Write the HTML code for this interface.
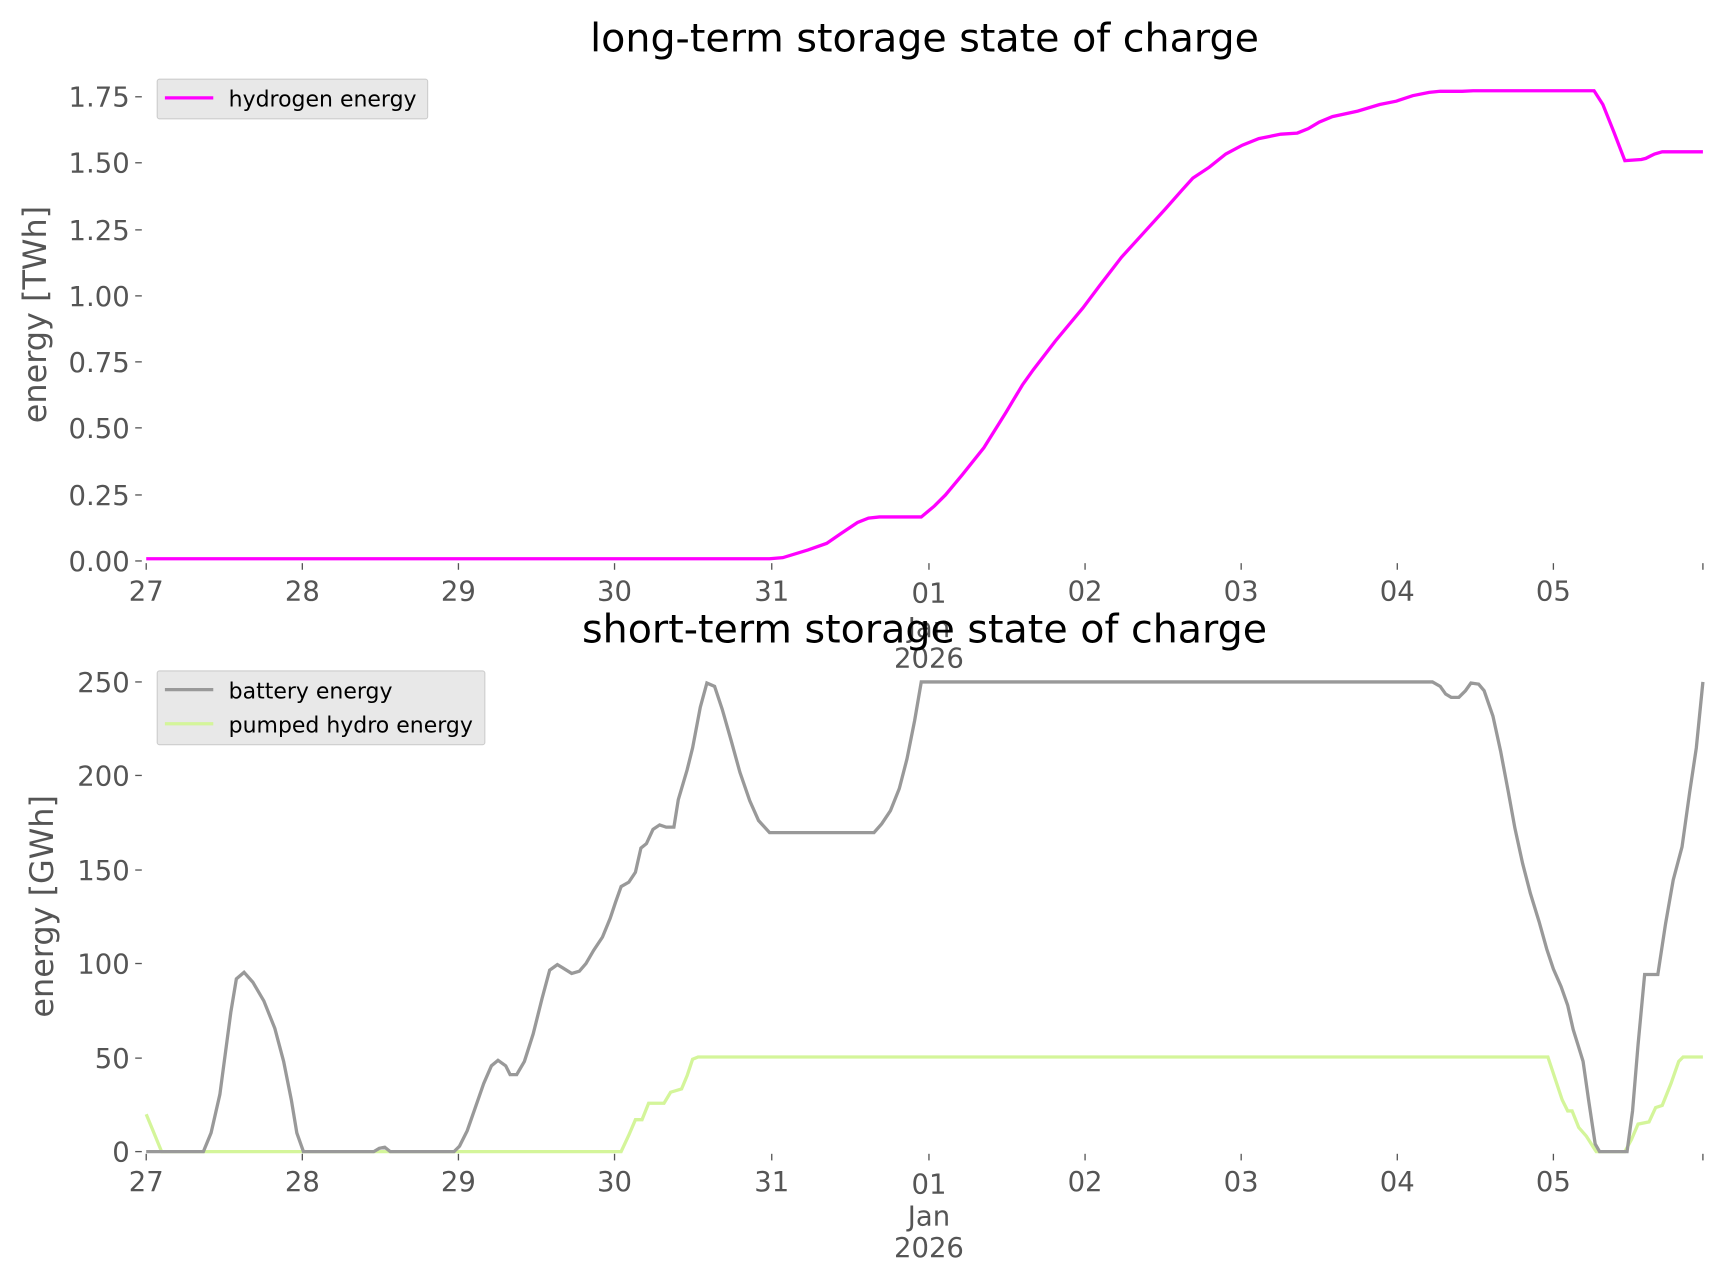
<!DOCTYPE html>
<html><head><style>html,body{margin:0;padding:0;background:#fff;}svg{display:block}</style></head>
<body>
<svg width="1715" height="1277" viewBox="0 0 1560 1161" preserveAspectRatio="none" xmlns="http://www.w3.org/2000/svg" font-family="DejaVu Sans, Liberation Sans, sans-serif">
<rect width="1560" height="1161" fill="#fff"/>
<!-- TOP -->
<text x="841" y="47" font-size="36" text-anchor="middle" fill="#000">long-term storage state of charge</text>
<g fill="#555" font-size="25" text-anchor="end">
<text x="118" y="519">0.00</text><text x="118" y="459">0.25</text><text x="118" y="398">0.50</text>
<text x="118" y="338">0.75</text><text x="118" y="278">1.00</text><text x="118" y="218">1.25</text>
<text x="118" y="157">1.50</text><text x="118" y="97">1.75</text>
</g>
<g stroke="#555" stroke-width="1.2">
<line x1="123" y1="510" x2="129" y2="510"/><line x1="123" y1="450" x2="129" y2="450"/><line x1="123" y1="389" x2="129" y2="389"/><line x1="123" y1="329" x2="129" y2="329"/><line x1="123" y1="269" x2="129" y2="269"/><line x1="123" y1="209" x2="129" y2="209"/><line x1="123" y1="148" x2="129" y2="148"/><line x1="123" y1="88" x2="129" y2="88"/>
<line x1="133" y1="512" x2="133" y2="518"/><line x1="275" y1="512" x2="275" y2="518"/><line x1="417" y1="512" x2="417" y2="518"/><line x1="559" y1="512" x2="559" y2="518"/><line x1="702" y1="512" x2="702" y2="518"/><line x1="845" y1="512" x2="845" y2="518"/><line x1="987" y1="512" x2="987" y2="518"/><line x1="1129" y1="512" x2="1129" y2="518"/><line x1="1271" y1="512" x2="1271" y2="518"/><line x1="1413" y1="512" x2="1413" y2="518"/><line x1="1549" y1="512" x2="1549" y2="518"/>
</g>
<g fill="#555" font-size="25" text-anchor="middle">
<text x="133" y="546">27</text><text x="275" y="546">28</text><text x="417" y="546">29</text><text x="559" y="546">30</text><text x="702" y="546">31</text><text x="845" y="548">01</text><text x="845" y="579">Jan</text><text x="845" y="607">2026</text><text x="987" y="546">02</text><text x="1129" y="546">03</text><text x="1271" y="546">04</text><text x="1413" y="546">05</text>
</g>
<text transform="translate(42,286) rotate(-90)" font-size="29" fill="#555" text-anchor="middle">energy [TWh]</text>
<polyline fill="none" stroke="#ff00ff" stroke-width="3" points="133,508 700,508 712,507 735,500 752,494 765,485 780,475 790,471 800,470 838,470 850,460 860,450 875,432 895,407 915,375 930,350 940,336 960,310 985,280 1000,260 1020,234 1040,212 1060,190 1075,173 1085,162 1100,152 1115,140 1130,132 1145,126 1165,122 1180,121 1190,117 1200,111 1212,106 1235,101 1255,95 1270,92 1285,87 1300,84 1310,83 1330,83 1340,82.5 1450,82.5 1458,95 1468,120 1478,146 1493,145 1497,144 1505,140 1512,138 1549,138"/>
<rect x="143" y="72" width="246" height="36" fill="#e8e8e8" stroke="#ccc" stroke-width="1" rx="2"/>
<line x1="150" y1="89" x2="194" y2="89" stroke="#ff00ff" stroke-width="3"/>
<text x="208" y="97" font-size="20" fill="#000">hydrogen energy</text>
<!-- BOTTOM -->
<text x="841" y="584" font-size="36" text-anchor="middle" fill="#000">short-term storage state of charge</text>
<g fill="#555" font-size="25" text-anchor="end">
<text x="118" y="1056">0</text><text x="118" y="971">50</text><text x="118" y="885">100</text><text x="118" y="800">150</text><text x="118" y="714">200</text><text x="118" y="629">250</text>
</g>
<g stroke="#555" stroke-width="1.2">
<line x1="123" y1="1047" x2="129" y2="1047"/><line x1="123" y1="962" x2="129" y2="962"/><line x1="123" y1="876" x2="129" y2="876"/><line x1="123" y1="791" x2="129" y2="791"/><line x1="123" y1="705" x2="129" y2="705"/><line x1="123" y1="620" x2="129" y2="620"/>
<line x1="133" y1="1049" x2="133" y2="1055"/><line x1="275" y1="1049" x2="275" y2="1055"/><line x1="417" y1="1049" x2="417" y2="1055"/><line x1="559" y1="1049" x2="559" y2="1055"/><line x1="702" y1="1049" x2="702" y2="1055"/><line x1="845" y1="1049" x2="845" y2="1055"/><line x1="987" y1="1049" x2="987" y2="1055"/><line x1="1129" y1="1049" x2="1129" y2="1055"/><line x1="1271" y1="1049" x2="1271" y2="1055"/><line x1="1413" y1="1049" x2="1413" y2="1055"/><line x1="1549" y1="1049" x2="1549" y2="1055"/>
</g>
<g fill="#555" font-size="25" text-anchor="middle">
<text x="133" y="1083">27</text><text x="275" y="1083">28</text><text x="417" y="1083">29</text><text x="559" y="1083">30</text><text x="702" y="1083">31</text><text x="845" y="1085">01</text><text x="845" y="1114">Jan</text><text x="845" y="1143">2026</text><text x="987" y="1083">02</text><text x="1129" y="1083">03</text><text x="1271" y="1083">04</text><text x="1413" y="1083">05</text>
</g>
<text transform="translate(48,824) rotate(-90)" font-size="29" fill="#555" text-anchor="middle">energy [GWh]</text>
<polyline fill="none" stroke="#d4f59a" stroke-width="3" points="133,1013 140,1030 147,1047 565,1047 572,1032 578,1018 584,1018 590,1003 604,1003 610,993 620,990 625,978 630,963 635,961 1408,961 1415,982 1421,1000 1426,1010 1430,1010 1436,1025 1443,1033 1450,1044 1452,1047 1478,1047 1484,1036 1490,1022 1500,1020 1506,1007 1512,1005 1520,985 1527,965 1531,961 1549,961"/>
<polyline fill="none" stroke="#999" stroke-width="3" points="133,1047 185,1047 192,1030 200,995 210,920 215,890 222,884 230,893 240,910 250,935 258,965 265,1000 270,1030 276,1047 340,1047 345,1044 350,1043 355,1047 413,1047 418,1042 425,1028 432,1008 440,985 447,969 453,964 460,969 464,977 470,977 477,965 485,940 493,908 500,882 507,877 512,880 520,885 527,883 533,876 540,864 548,852 555,835 560,820 565,806 572,802 578,793 583,771 588,767 594,754 600,750 606,752 613,752 617,727 625,700 630,680 637,643 643,621 650,624 657,645 665,673 673,702 682,728 690,746 700,757 795,757 802,749 810,737 818,717 825,690 832,655 838,620 1303,620 1310,624 1315,631 1320,634 1327,634 1333,628 1338,621 1345,622 1350,628 1358,651 1365,683 1372,720 1378,753 1385,785 1392,812 1400,838 1407,863 1413,881 1420,897 1426,914 1431,936 1436,952 1440,965 1445,1000 1451,1040 1455,1047 1480,1047 1485,1010 1490,950 1496,886 1508,886 1515,840 1522,800 1530,770 1537,720 1543,680 1549,620"/>
<rect x="143" y="610" width="298" height="67" fill="#e8e8e8" stroke="#ccc" stroke-width="1" rx="2"/>
<line x1="150" y1="627" x2="194" y2="627" stroke="#999" stroke-width="3"/>
<text x="208" y="635" font-size="20" fill="#000">battery energy</text>
<line x1="150" y1="658" x2="194" y2="658" stroke="#d4f59a" stroke-width="3"/>
<text x="208" y="666" font-size="20" fill="#000">pumped hydro energy</text>
</svg>
</body></html>
